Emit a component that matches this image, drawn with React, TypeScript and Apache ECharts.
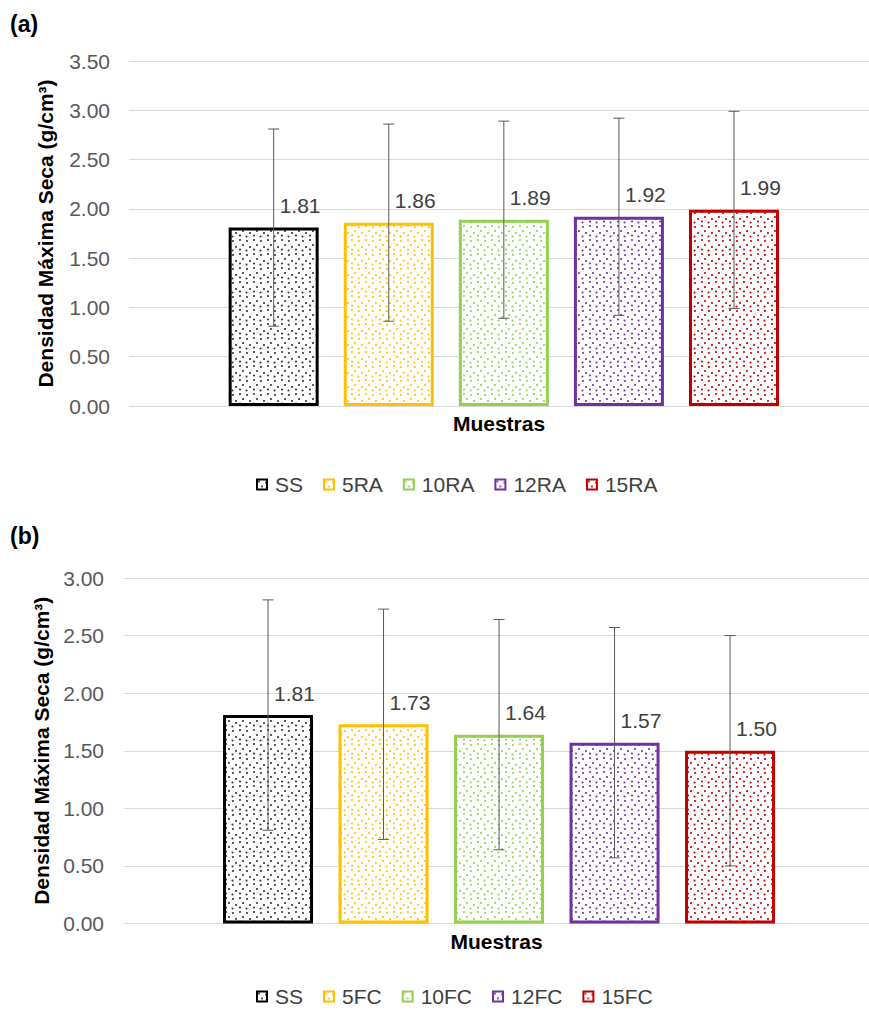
import React, { useEffect, useRef } from 'react';
import * as echarts from 'echarts';

const positions = [1, 2, 3, 4, 5];

const categoriesA = ['SS', '5RA', '10RA', '12RA', '15RA'];
const valuesA = [1.81, 1.86, 1.89, 1.92, 1.99];
const errorsA = [1.0, 1.0, 1.0, 1.0, 1.0];

const categoriesB = ['SS', '5FC', '10FC', '12FC', '15FC'];
const valuesB = [1.81, 1.73, 1.64, 1.57, 1.5];
const errorsB = [1.0, 1.0, 1.0, 1.0, 1.0];

const yMaxA = 3.5;
const yMaxB = 3.0;
const yInterval = 0.5;

const borderColors = ['#000000', '#FFC000', '#92D050', '#7030A0', '#C00000'];
const dotColors = ['#333333', '#FFC000', '#92D050', '#7030A0', '#C00000'];

const FONT = '"Liberation Sans", Arial, sans-serif';

function makePattern(color: string): HTMLCanvasElement {
  const c = document.createElement('canvas');
  c.width = 14;
  c.height = 14;
  const ctx = c.getContext('2d')!;
  ctx.fillStyle = '#ffffff';
  ctx.fillRect(0, 0, 14, 14);
  ctx.fillStyle = color;
  const dots = [
    [2, 2], [9, 3], [5, 7], [12, 9], [2, 11.5], [8.5, 12.5],
  ];
  dots.forEach(([x, y]) => {
    ctx.beginPath();
    ctx.arc(x, y, 1.05, 0, Math.PI * 2);
    ctx.fill();
  });
  return c;
}

function buildSeries(
  names: string[],
  values: number[],
  errors: number[],
  axisIndex: number,
  patterns: HTMLCanvasElement[]
) {
  const bars = names.map((name, i) => ({
    type: 'bar',
    name,
    xAxisIndex: axisIndex,
    yAxisIndex: axisIndex,
    barWidth: 90,
    barGap: '-100%',
    data: [[positions[i], values[i]]],
    itemStyle: {
      color: { image: patterns[i], repeat: 'repeat' },
      borderColor: borderColors[i],
      borderWidth: 3,
    },
    emphasis: { disabled: true },
  }));
  const err = {
    type: 'custom',
    name: 'err' + axisIndex,
    xAxisIndex: axisIndex,
    yAxisIndex: axisIndex,
    z: 5,
    data: positions.map((p, i) => [p, values[i], errors[i]]),
    renderItem: (params: any, api: any) => {
      const x = api.value(0);
      const v = api.value(1);
      const e = api.value(2);
      const top = api.coord([x, v + e]);
      const bot = api.coord([x, v - e]);
      const mid = api.coord([x, v]);
      const cap = 5.5;
      const ls = { stroke: '#595959', lineWidth: 1 };
      return {
        type: 'group',
        children: [
          { type: 'line', shape: { x1: top[0], y1: top[1], x2: bot[0], y2: bot[1] }, style: ls },
          { type: 'line', shape: { x1: top[0] - cap, y1: top[1], x2: top[0] + cap, y2: top[1] }, style: ls },
          { type: 'line', shape: { x1: bot[0] - cap, y1: bot[1], x2: bot[0] + cap, y2: bot[1] }, style: ls },
          {
            type: 'text',
            x: mid[0] + 6,
            y: mid[1] - 22,
            style: {
              text: v.toFixed(2),
              fill: '#404040',
              font: '21px ' + FONT,
              align: 'left',
              verticalAlign: 'middle',
            },
          },
        ],
      };
    },
  };
  return [...bars, err];
}

export default function App() {
  const ref = useRef<HTMLDivElement>(null);
  useEffect(() => {
    if (!ref.current) return;
    const chart = echarts.init(ref.current, undefined, { renderer: 'svg' });
    const patterns = dotColors.map((c) => makePattern(c));

    const yAxisCommon = (gridIndex: number, max: number, margin: number, gap: number) => ({
      type: 'value',
      gridIndex,
      position: 'left',
      min: 0,
      max,
      interval: yInterval,
      name: 'Densidad Máxima Seca (g/cm³)',
      nameLocation: 'middle',
      nameGap: gap,
      nameTextStyle: { fontSize: 21, fontWeight: 'bold', color: '#000', fontFamily: FONT },
      axisLine: { show: false },
      axisTick: { show: false },
      axisLabel: {
        margin,
        fontSize: 21,
        color: '#595959',
        fontFamily: FONT,
        formatter: (v: number) => v.toFixed(2),
      },
      splitLine: { lineStyle: { color: '#d9d9d9', width: 1 } },
    });

    const xAxisCommon = (gridIndex: number, min: number, max: number, gap: number) => ({
      type: 'value',
      gridIndex,
      position: 'bottom',
      min,
      max,
      name: 'Muestras',
      nameLocation: 'middle',
      nameGap: gap,
      nameTextStyle: { fontSize: 21, fontWeight: 'bold', color: '#000', fontFamily: FONT },
      axisLine: { show: false },
      axisTick: { show: false },
      axisLabel: { show: false },
      splitLine: { show: false },
    });

    const legendCommon = (data: string[], top: number) => ({
      data,
      left: 256,
      top,
      padding: 0,
      icon: 'rect',
      itemWidth: 10,
      itemHeight: 10,
      itemGap: 20,
      itemStyle: { borderWidth: 2 },
      selectedMode: false,
      textStyle: { fontSize: 21, color: '#404040', fontFamily: FONT, padding: [0, 0, 0, 3] },
    });

    chart.setOption({
      animation: false,
      textStyle: { fontFamily: FONT },
      title: [
        { text: '(a)', left: 10, top: 12, padding: 0, textStyle: { fontSize: 23, fontWeight: 'bold', color: '#000', fontFamily: FONT } },
        { text: '(b)', left: 10, top: 524, padding: 0, textStyle: { fontSize: 23, fontWeight: 'bold', color: '#000', fontFamily: FONT } },
      ],
      legend: [legendCommon(categoriesA, 474), legendCommon(categoriesB, 986)],
      grid: [
        { left: 129, right: 0, top: 61, height: 345 },
        { left: 124, right: 0, top: 578, height: 345.5 },
      ],
      xAxis: [xAxisCommon(0, -0.257, 6.173, 6.5), xAxisCommon(1, -0.247, 6.203, 7)],
      yAxis: [yAxisCommon(0, yMaxA, 19, 73.5), yAxisCommon(1, yMaxB, 20, 68.5)],
      series: [
        ...buildSeries(categoriesA, valuesA, errorsA, 0, patterns),
        ...buildSeries(categoriesB, valuesB, errorsB, 1, patterns),
      ],
    });
    return () => chart.dispose();
  }, []);
  return (
    <div
      ref={ref}
      style={{ position: 'fixed', left: 0, top: 0, width: 869, height: 1012, background: '#fff' }}
    />
  );
}
